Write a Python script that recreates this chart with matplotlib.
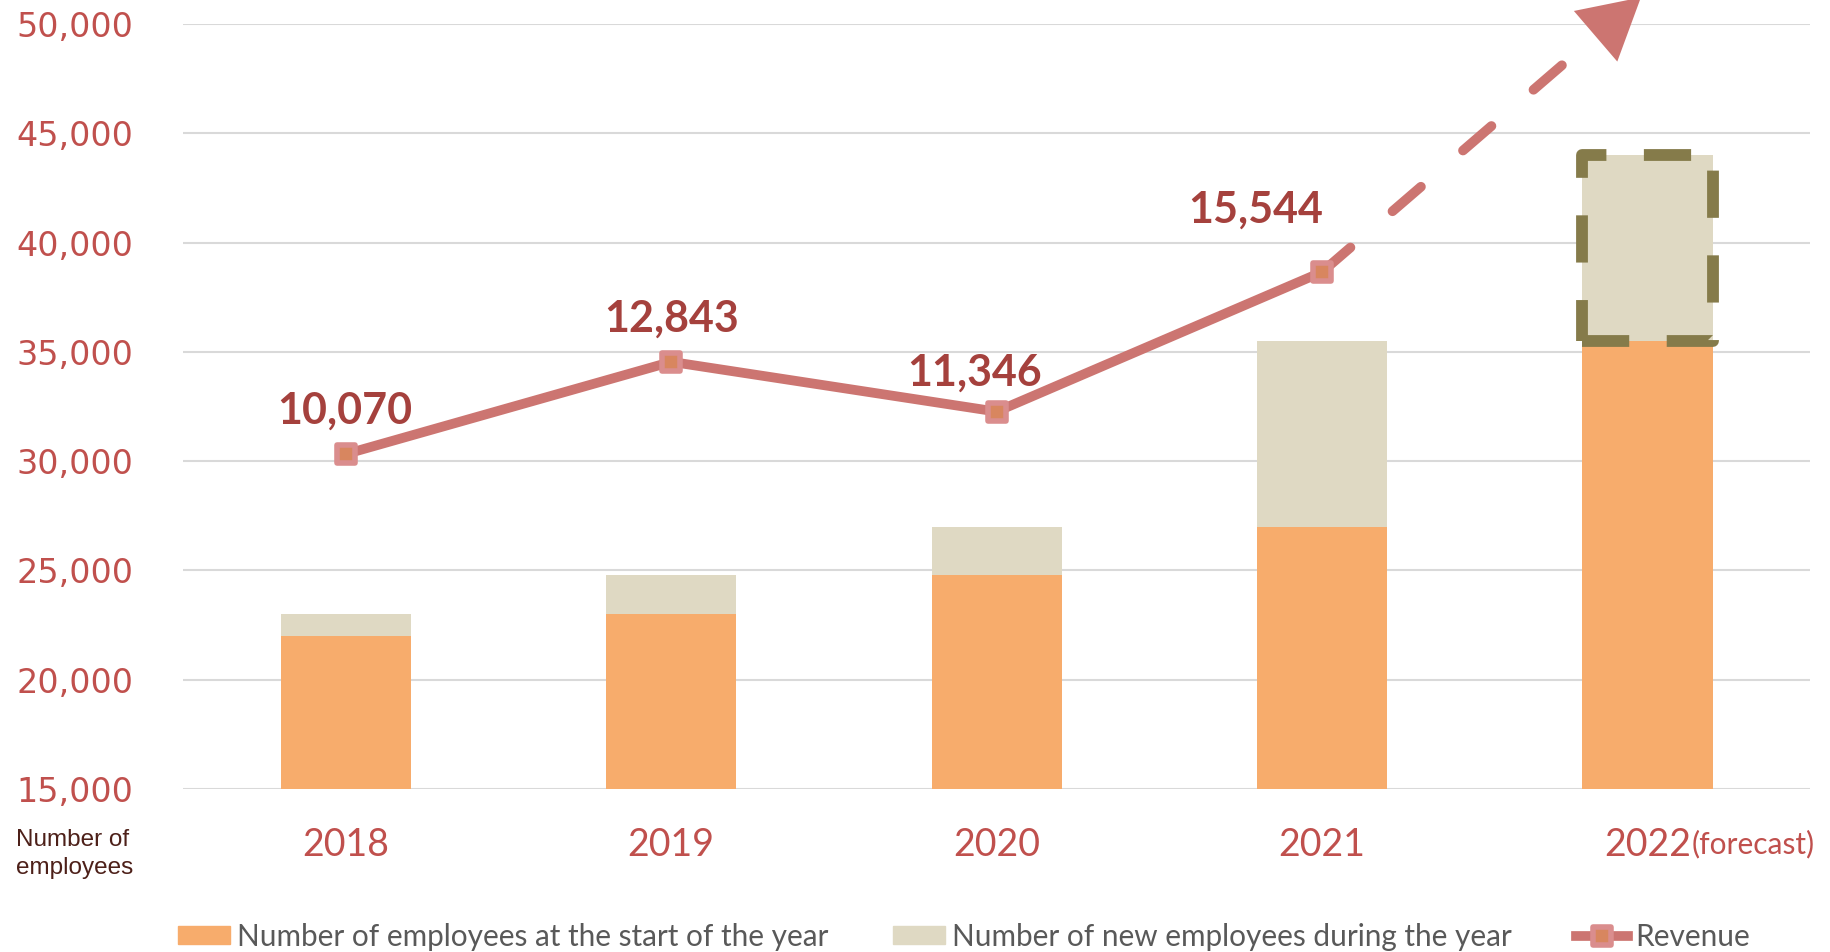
import matplotlib.pyplot as plt
from matplotlib.lines import Line2D
from matplotlib.patches import Patch, Rectangle
from matplotlib.markers import MarkerStyle

plt.rcParams['font.family'] = ['Lato', 'DejaVu Sans']
plt.rcParams['lines.scale_dashes'] = False

# data
years = ['2018', '2019', '2020', '2021', '2022']
start_employees = [22000, 23000, 24800, 27000, 35500]
new_employees = [1000, 1800, 2200, 8500, 8500]
revenue = [10070, 12843, 11346, 15544]
y_ticks = [15000, 20000, 25000, 30000, 35000, 40000, 45000, 50000]
legend_labels = ['Number of employees at the start of the year',
                 'Number of new employees during the year',
                 'Revenue']

orange = '#F7AC6C'
beige = '#DFD9C3'
line_col = '#CC7571'
tick_col = '#C0504D'
label_col = '#A5413D'

fig = plt.figure(figsize=(18.31, 9.52), dpi=100)
ax = fig.add_axes([0.1, 0.1712, 0.8886, 0.8036])

x = list(range(len(years)))
ax.bar(x, start_employees, 0.4, color=orange, zorder=2)
ax.bar(x, new_employees, 0.4, bottom=start_employees, color=beige, zorder=2)

# dashed frame around the forecast increase
box = Rectangle((x[-1] - 0.2, start_employees[-1]), 0.4, new_employees[-1],
                fill=False, edgecolor='#857B4A', lw=8.5, linestyle=(0, (34, 27)),
                joinstyle='round', capstyle='butt', zorder=3)
ax.add_patch(box)

ax.set_xlim(-0.5, 4.5)
ax.set_ylim(15000, 50000)
ax.set_yticks(y_ticks)
ax.set_yticklabels([f'{v:,}' for v in y_ticks], family='DejaVu Sans', fontsize=24, color=tick_col)
ax.set_xticks(x)
ax.set_xticklabels(years, fontsize=27, color=tick_col)
ax.tick_params(length=0)
ax.tick_params(axis='y', pad=36)
ax.tick_params(axis='x', pad=27)
ax.grid(axis='y', color='#D9D9D9', lw=1.5)
ax.set_axisbelow(True)
for s in ax.spines.values():
    s.set_visible(False)

ax.annotate('(forecast)', xy=(4, 0), xycoords=('data', 'axes fraction'),
            xytext=(32, -40), textcoords='offset points', ha='left', va='center',
            fontsize=21.5, color=tick_col)

# revenue on a hidden second scale
ax2 = ax.twinx()
ax2.set_ylim(0, 23000)
ax2.axis('off')

mk = MarkerStyle('s', joinstyle='round')
ax2.plot(x[:4], revenue, color=line_col, lw=7, marker=mk, ms=13,
         mfc='#D8865F', mec='#DA8D8D', mew=4, zorder=4)

# forecast arrow
arrow_tip = (3.98, 23800)
head_base = (3.839, 22617)
ax2.plot([x[3], head_base[0]], [revenue[3], head_base[1]], color=line_col, lw=7,
         dashes=(27, 40), dash_capstyle='round', zorder=3, clip_on=False)
arr = ax2.annotate('', xy=arrow_tip, xytext=head_base, annotation_clip=False,
                   arrowprops=dict(arrowstyle='-|>,head_length=2.15,head_width=1.2',
                                   mutation_scale=20, color=line_col, lw=0,
                                   shrinkA=0, shrinkB=0))
arr.arrow_patch.set_clip_on(False)

label_offsets = [(-1, 31), (0, 31), (-16, 28), (-48, 45)]
for i, v in enumerate(revenue):
    ax2.annotate(f'{v:,}', (x[i], v), xytext=label_offsets[i], textcoords='offset points',
                 ha='center', va='center', fontsize=31, fontweight='bold', color=label_col)

fig.text(16 / 1831, 1 - 854 / 952, 'Number of\nemployees', family='Liberation Sans',
         fontsize=17.5, color='#4D2019', ha='left', va='center', linespacing=1.3)

handles = [Patch(color=orange), Patch(color=beige),
           Line2D([], [], color=line_col, lw=7, marker=mk, ms=13,
                  mfc='#D8865F', mec='#DA8D8D', mew=4)]
fig.legend(handles, legend_labels, loc='center', bbox_to_anchor=(0.5265, 0.016), ncol=3,
           frameon=False, fontsize=21.4, labelcolor='#595959', handlelength=1.75,
           handleheight=0.55, handletextpad=0.25, columnspacing=2.15)

fig.savefig('out.png', dpi=100)
